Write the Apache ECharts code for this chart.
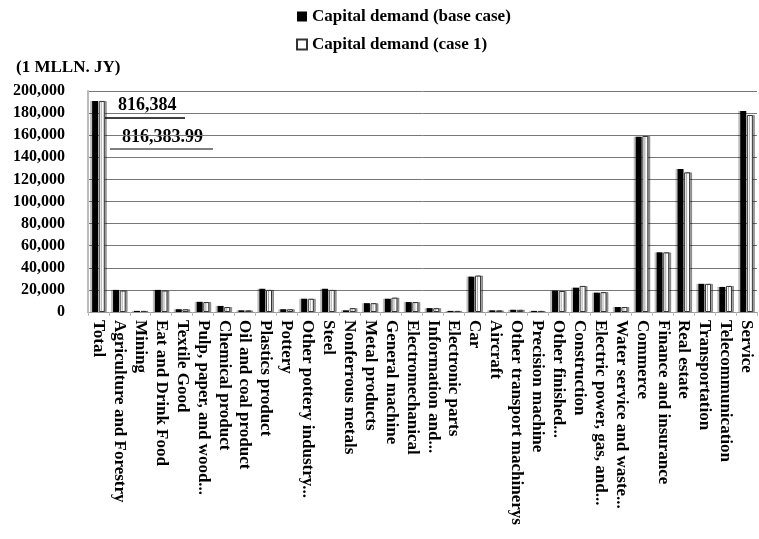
<!DOCTYPE html>
<html>
<head>
<meta charset="utf-8">
<script src="https://cdn.jsdelivr.net/npm/echarts@6/dist/echarts.min.js"></script>
<style>
html,body{margin:0;padding:0;background:#fff;}
#chart{width:759px;height:539px;}
</style>
</head>
<body>
<div id="chart"></div>
<script>
var categories = ["Total", "Agriculture and Forestry", "Mining", "Eat and Drink Food", "Textile Good",
	"Pulp, paper, and wood...", "Chemical product", "Oil and coal product", "Plastics product", "Pottery",
	"Other pottery industry...", "Steel", "Nonferrous metals", "Metal products", "General machine",
	"Electromechanical", "Information and...", "Electronic parts", "Car", "Aircraft",
	"Other transport machinerys", "Precision machine", "Other finished...", "Construction",
	"Electric power, gas, and...", "Water service and waste...", "Commerce", "Finance and insurance",
	"Real estate", "Transportation", "Telecommunication", "Service"];

var baseCase = [191000, 20000, 1000, 20000, 2500, 9200, 5500, 1500, 21000, 2500,
	12000, 21000, 1500, 8000, 12000, 9000, 3500, 1000, 32000, 1500,
	2000, 1000, 19400, 22000, 17500, 4500, 158600, 54000, 129400, 25500, 22700, 181900];

var case1 = [191000, 19500, 1000, 19500, 2500, 9000, 4500, 1500, 20000, 2500,
	12000, 20000, 3500, 8000, 13000, 9000, 3500, 1000, 33000, 1500,
	2000, 1000, 19000, 23600, 18000, 4500, 159300, 54000, 126400, 25500, 23600, 178300];

var yTicks = [0, 20000, 40000, 60000, 80000, 100000, 120000, 140000, 160000, 180000, 200000];

var serif = '"Liberation Serif", "DejaVu Serif", serif';

var s = echarts.init(document.getElementById("chart")), c = {
	animation: false,
	legend: {
		orient: "vertical",
		left: 291,
		top: 3,
		itemGap: 11,
		itemWidth: 10,
		itemHeight: 10,
		textStyle: {fontFamily: serif, fontWeight: "bold", fontSize: 17, color: "#000"},
		data: [
			{name: "Capital demand (base case)", icon: "rect"},
			{name: "Capital demand (case 1)", icon: "rect"}
		]
	},
	graphic: [
		{type: "text", left: 16, top: 59, style: {text: "(1 MLLN. JY)", font: "bold 17px " + serif, fill: "#000"}},
		{type: "text", left: 118, top: 96, style: {text: "816,384", font: "bold 18px " + serif, fill: "#000"}},
		{type: "line", shape: {x1: 105, y1: 118, x2: 185, y2: 118}, style: {stroke: "#000", lineWidth: 1.5}},
		{type: "text", left: 122, top: 128, style: {text: "816,383.99", font: "bold 18px " + serif, fill: "#000"}},
		{type: "line", shape: {x1: 110, y1: 149, x2: 213, y2: 149}, style: {stroke: "#000", lineWidth: 1.2}}
	],
	grid: {left: 88, right: 2, top: 91, bottom: 227},
	xAxis: {
		type: "category",
		data: categories,
		axisLine: {lineStyle: {color: "#999"}},
		axisTick: {show: true, length: 4, lineStyle: {color: "#bbb"}},
		axisLabel: {
			rotate: -90, interval: 0, margin: 8,
			fontFamily: serif, fontWeight: "bold", fontSize: 17, color: "#000"
		}
	},
	yAxis: {
		type: "value",
		min: yTicks[0],
		max: yTicks[yTicks.length - 1],
		interval: 20000,
		axisLine: {show: true, lineStyle: {color: "#bbb", width: 2}},
		axisTick: {show: false},
		splitLine: {lineStyle: {color: "#777"}},
		axisLabel: {
			margin: 23,
			fontFamily: serif, fontWeight: "bold", fontSize: 16, color: "#000",
			formatter: function (v) { return v.toLocaleString("en-US"); }
		}
	},
	series: [
		{
			name: "Capital demand (base case)",
			type: "bar",
			barWidth: 6,
			barGap: "10%",
			itemStyle: {color: "#000", shadowColor: "rgba(0,0,0,0.25)", shadowOffsetX: -2},
			data: baseCase
		},
		{
			name: "Capital demand (case 1)",
			type: "bar",
			barWidth: 6,
			itemStyle: {color: "#fff", borderColor: "#333", borderWidth: 1, shadowColor: "rgba(0,0,0,0.35)", shadowOffsetX: 2},
			data: case1
		}
	]
};
s.setOption(c);
</script>
</body>
</html>
